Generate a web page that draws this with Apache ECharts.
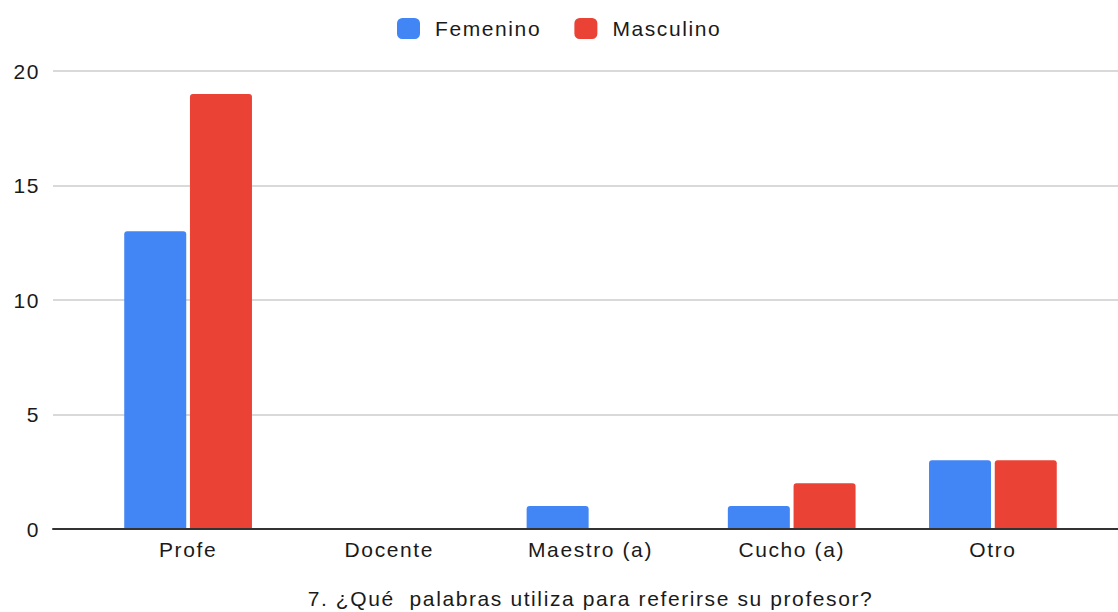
<!DOCTYPE html>
<html>
<head>
<meta charset="utf-8">
<title>7. ¿Qué palabras utiliza para referirse su profesor?</title>
<script src="https://cdn.jsdelivr.net/npm/echarts@6/dist/echarts.min.js"></script>
<style>
    html, body { margin: 0; padding: 0; background: #fff; }
    #chart { width: 1118px; height: 612px; }
    /* el texto del original va bastante espaciado */
    #chart text { letter-spacing: 1.6px; }
</style>
</head>
<body>
<div id="chart"></div>
<script>
// datos
var categorias = ['Profe', 'Docente', 'Maestro (a)', 'Cucho (a)', 'Otro'];
var femenino = [13, 0, 1, 1, 3];
var masculino = [19, 0, 0, 2, 3];
var ticksY = [0, 5, 10, 15, 20];
var tituloX = '7. ¿Qué  palabras utiliza para referirse su profesor?';

var fuente = 'Liberation Sans, Arial, sans-serif';
var chart = echarts.init(document.getElementById('chart'), null, { renderer: 'svg' });

var option = {
    backgroundColor: '#fff',
    animation: false,
    legend: {
        left: 392,
        top: 13,
        icon: 'roundRect',
        itemWidth: 23,
        itemHeight: 21,
        itemGap: 46,
        data: ['Femenino', 'Masculino'],
        textStyle: {
            color: '#1a1a1a',
            fontSize: 21,
            fontFamily: fuente,
            padding: [0, 0, 0, 10]
        }
    },
    grid: [
        // rejilla ancha: solo lineas horizontales y eje inferior
        { left: 53, right: 0, top: 71, bottom: 83, outerBoundsMode: 'none' },
        // rejilla de las barras
        { left: 87.5, right: 24.5, top: 71, bottom: 83, outerBoundsMode: 'none' }
    ],
    xAxis: [
        {
            gridIndex: 0,
            type: 'value',
            min: 0,
            max: 1,
            z: 5,
            axisLine: { show: true, lineStyle: { color: '#333', width: 2 } },
            axisTick: { show: false },
            axisLabel: { show: false },
            splitLine: { show: false }
        },
        {
            gridIndex: 1,
            type: 'category',
            data: categorias,
            axisLine: { show: false },
            axisTick: { show: false },
            axisLabel: {
                margin: 10,
                color: '#1a1a1a',
                fontSize: 21,
                fontFamily: fuente
            },
            name: tituloX,
            nameLocation: 'middle',
            nameGap: 59,
            nameTextStyle: {
                color: '#1a1a1a',
                fontSize: 21,
                fontFamily: fuente
            }
        }
    ],
    yAxis: [
        {
            gridIndex: 0,
            type: 'value',
            min: ticksY[0],
            max: ticksY[ticksY.length - 1],
            interval: 5,
            axisLine: { show: false },
            axisTick: { show: false },
            axisLabel: {
                margin: 13,
                color: '#1a1a1a',
                fontSize: 21,
                fontFamily: fuente
            },
            splitLine: { lineStyle: { color: '#ccc', width: 1.5 } }
        },
        {
            gridIndex: 1,
            type: 'value',
            min: ticksY[0],
            max: ticksY[ticksY.length - 1],
            interval: 5,
            show: false,
            splitLine: { show: false }
        }
    ],
    series: [
        {
            name: 'Femenino',
            type: 'bar',
            xAxisIndex: 1,
            yAxisIndex: 1,
            data: femenino,
            barWidth: 62,
            barGap: '6%',
            itemStyle: { color: '#4285f4', borderRadius: [3, 3, 0, 0] }
        },
        {
            name: 'Masculino',
            type: 'bar',
            xAxisIndex: 1,
            yAxisIndex: 1,
            data: masculino,
            barWidth: 62,
            barGap: '6%',
            itemStyle: { color: '#ea4335', borderRadius: [3, 3, 0, 0] }
        }
    ]
};

chart.setOption(option);
</script>
</body>
</html>
